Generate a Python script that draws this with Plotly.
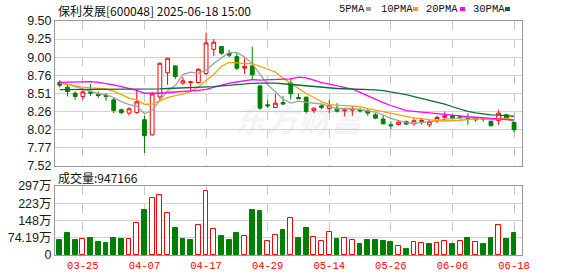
import plotly.graph_objects as go

dates = ["03-20", "03-21", "03-24", "03-25", "03-26", "03-27", "03-28", "03-31",
         "04-01", "04-02", "04-03", "04-07", "04-08", "04-09", "04-10", "04-11",
         "04-14", "04-15", "04-16", "04-17", "04-18", "04-21", "04-22", "04-23",
         "04-24", "04-25", "04-28", "04-29", "04-30", "05-06", "05-07", "05-08",
         "05-09", "05-12", "05-13", "05-14", "05-15", "05-16", "05-19", "05-20",
         "05-21", "05-22", "05-23", "05-26", "05-27", "05-28", "05-29", "05-30",
         "06-03", "06-04", "06-05", "06-06", "06-09", "06-10", "06-11", "06-12",
         "06-13", "06-16", "06-17", "06-18"]

open_ = [8.66, 8.593, 8.511, 8.466, 8.529, 8.498, 8.484, 8.42, 8.283, 8.238,
         8.247, 8.147, 7.94, 8.46, 8.79, 8.885, 8.648, 8.657, 8.657, 8.78,
         9.113, 9.149, 9.058, 9.012, 8.853, 8.885, 8.611, 8.352, 8.315, 8.383,
         8.652, 8.452, 8.456, 8.274, 8.338, 8.301, 8.306, 8.27, 8.279, 8.283,
         8.27, 8.215, 8.156, 8.078, 8.083, 8.119, 8.092, 8.124, 8.078, 8.133,
         8.18, 8.205, 8.19, 8.165, 8.145, 8.16, 8.124, 8.138, 8.215, 8.11]
high = [8.69, 8.625, 8.534, 8.557, 8.639, 8.534, 8.511, 8.443, 8.302, 8.32,
        8.566, 8.201, 8.53, 8.93, 8.99, 8.89, 8.73, 8.68, 8.853, 9.34,
        9.25, 9.158, 9.104, 9.06, 8.99, 9.149, 8.625, 8.42, 8.502, 8.474,
        8.716, 8.502, 8.465, 8.31, 8.365, 8.42, 8.374, 8.306, 8.329, 8.306,
        8.292, 8.238, 8.215, 8.124, 8.138, 8.138, 8.17, 8.17, 8.156, 8.201,
        8.26, 8.215, 8.2, 8.238, 8.185, 8.183, 8.124, 8.283, 8.229, 8.124]
low = [8.59, 8.466, 8.42, 8.42, 8.475, 8.443, 8.406, 8.238, 8.22, 8.201,
       8.229, 7.691, 7.93, 8.40, 8.625, 8.703, 8.625, 8.543, 8.639, 8.76,
       9.02, 9.04, 9.003, 8.825, 8.775, 8.694, 8.283, 8.306, 8.306, 8.352,
       8.425, 8.434, 8.23, 8.24, 8.292, 8.238, 8.247, 8.192, 8.201, 8.247,
       8.201, 8.156, 8.083, 8.019, 8.069, 8.078, 8.065, 8.078, 8.046, 8.101,
       8.133, 8.15, 8.15, 8.078, 8.12, 8.124, 8.056, 8.078, 8.147, 7.975]
close = [8.62, 8.534, 8.466, 8.529, 8.511, 8.479, 8.466, 8.274, 8.247, 8.297,
         8.393, 7.928, 8.50, 8.921, 8.99, 8.739, 8.68, 8.666, 8.839, 9.20,
         9.21, 9.058, 9.031, 8.853, 8.876, 8.762, 8.306, 8.338, 8.374, 8.361,
         8.502, 8.434, 8.26, 8.306, 8.315, 8.338, 8.265, 8.283, 8.292, 8.27,
         8.238, 8.169, 8.092, 8.065, 8.115, 8.087, 8.133, 8.138, 8.124, 8.179,
         8.20, 8.175, 8.18, 8.15, 8.17, 8.15, 8.065, 8.238, 8.156, 8.01]

ma5 = [8.657, 8.634, 8.60, 8.57, 8.532, 8.504, 8.490, 8.452, 8.395, 8.353,
       8.335, 8.228, 8.273, 8.408, 8.546, 8.616, 8.766, 8.799, 8.783, 8.825,
       8.919, 8.995, 9.068, 9.070, 9.006, 8.916, 8.766, 8.627, 8.531, 8.428,
       8.376, 8.402, 8.386, 8.373, 8.363, 8.331, 8.297, 8.301, 8.299, 8.290,
       8.270, 8.250, 8.212, 8.167, 8.136, 8.106, 8.098, 8.108, 8.119, 8.132,
       8.155, 8.163, 8.172, 8.177, 8.175, 8.165, 8.143, 8.155, 8.156, 8.124]
ma10 = [8.65, 8.63, 8.61, 8.595, 8.585, 8.58, 8.57, 8.54, 8.49, 8.442,
        8.420, 8.359, 8.362, 8.402, 8.450, 8.476, 8.497, 8.536, 8.595, 8.686,
        8.767, 8.880, 8.933, 8.927, 8.915, 8.918, 8.880, 8.847, 8.801, 8.717,
        8.646, 8.584, 8.507, 8.452, 8.396, 8.353, 8.349, 8.344, 8.336, 8.327,
        8.300, 8.274, 8.257, 8.233, 8.213, 8.188, 8.174, 8.160, 8.143, 8.134,
        8.130, 8.131, 8.140, 8.148, 8.154, 8.160, 8.153, 8.163, 8.166, 8.149]
ma20 = [8.66, 8.665, 8.665, 8.67, 8.67, 8.66, 8.645, 8.625, 8.60, 8.58,
        8.55, 8.51, 8.505, 8.51, 8.52, 8.525, 8.53, 8.54, 8.55, 8.564,
        8.593, 8.620, 8.648, 8.664, 8.682, 8.697, 8.689, 8.692, 8.698, 8.701,
        8.707, 8.732, 8.720, 8.689, 8.656, 8.635, 8.615, 8.596, 8.568, 8.522,
        8.473, 8.429, 8.382, 8.342, 8.304, 8.271, 8.262, 8.252, 8.239, 8.230,
        8.215, 8.202, 8.198, 8.190, 8.183, 8.174, 8.164, 8.162, 8.155, 8.142]
ma30 = [8.56, 8.56, 8.56, 8.56, 8.56, 8.56, 8.56, 8.56, 8.56, 8.56,
        8.56, 8.56, 8.565, 8.57, 8.575, 8.578, 8.58, 8.585, 8.59, 8.595,
        8.60, 8.61, 8.62, 8.63, 8.64, 8.645, 8.648, 8.65, 8.648, 8.64,
        8.63, 8.62, 8.61, 8.60, 8.59, 8.58, 8.575, 8.572, 8.57, 8.568,
        8.565, 8.555, 8.545, 8.528, 8.51, 8.49, 8.465, 8.44, 8.415, 8.39,
        8.36, 8.325, 8.29, 8.26, 8.24, 8.225, 8.215, 8.21, 8.205, 8.195]

volume_wan = [64.5, 94.6, 64.5, 67.4, 73.1, 55.9, 51.6, 73.1, 68.8, 67.4,
              137.6, 193.5, 243.7, 258.0, 180.6, 116.1, 68.8, 64.5, 127.6, 273.8,
              110.4, 81.7, 64.5, 94.6, 80.3, 193.5, 189.2, 60.2, 84.6, 107.5,
              157.7, 73.1, 116.1, 76.0, 60.2, 98.9, 68.8, 71.7, 64.5, 47.3,
              64.5, 64.5, 60.2, 55.9, 37.3, 25.8, 55.9, 51.6, 47.3, 51.6,
              60.2, 47.3, 60.2, 73.1, 55.9, 47.3, 73.1, 129.0, 68.8, 94.7166]

tick_dates = ["03-25", "04-07", "04-17", "04-29", "05-14", "05-26", "06-06", "06-18"]
price_ticks = ["7.52", "7.77", "8.02", "8.26", "8.51", "8.76", "9.00", "9.25", "9.50"]
price_min, price_max = 7.52, 9.50
vol_max = 296.76
vol_tickvals = [0, 74.19, 148.38, 222.57, 296.76]
vol_ticks = ["0", "74.19万", "148万", "223万", "297万"]

ma_names = ["5PMA", "10PMA", "20PMA", "30PMA"]
ma_colors = ["#a0a0a0", "#f5a300", "#ff00ff", "#0b6e3a"]

RED = "#ff0000"
GREEN = "#008000"

W, H = 578, 276
ML, MR, MT, MB = 55, 56, 21, 21
PW, PH = W - ML - MR, H - MT - MB


def px_x(px):
    return (px - ML) / PW


def px_y(py):
    return (H - MB - py) / PH


x = list(range(len(dates)))
tickvals = [dates.index(d) for d in tick_dates]

fig = go.Figure()

fig.add_trace(go.Candlestick(
    x=x, open=open_, high=high, low=low, close=close,
    increasing=dict(line=dict(color=RED, width=1), fillcolor="white"),
    decreasing=dict(line=dict(color=GREEN, width=1), fillcolor=GREEN),
    whiskerwidth=0, xaxis="x", yaxis="y", hoverinfo="skip", showlegend=False,
))

for vals, name, col in zip([ma5, ma10, ma20, ma30], ma_names, ma_colors):
    fig.add_trace(go.Scatter(x=x, y=vals, mode="lines", name=name,
                             line=dict(color=col, width=1.3),
                             xaxis="x", yaxis="y", hoverinfo="skip", showlegend=False))

vol_up = []
for i in range(len(close)):
    ref = close[i - 1] if i > 0 else open_[i]
    vol_up.append(close[i] > ref)
vol_fill = ["white" if u else GREEN for u in vol_up]
vol_line = [RED if u else GREEN for u in vol_up]

fig.add_trace(go.Bar(x=x, y=volume_wan, width=0.62,
                     marker=dict(color=vol_fill, line=dict(color=vol_line, width=1)),
                     xaxis="x2", yaxis="y2", hoverinfo="skip", showlegend=False))

price_dom = [px_y(165.5), 1.0]
vol_dom = [0.0, px_y(186)]
xr = [-0.62, len(dates) - 1 + 1.03]

axis_common = dict(showline=True, linecolor="#9a9a9a", linewidth=1, mirror=True,
                   zeroline=False, ticks="", fixedrange=True, automargin=False)

fig.update_layout(
    width=W, height=H,
    margin=dict(l=ML, r=MR, t=MT, b=MB, pad=0, autoexpand=False),
    paper_bgcolor="white", plot_bgcolor="white",
    showlegend=False,
    xaxis=dict(domain=[0, 1], anchor="y", range=xr, tickvals=tickvals,
               showticklabels=False, showgrid=True, gridcolor="#c8c8c8",
               griddash="dash", gridwidth=1, rangeslider=dict(visible=False),
               **axis_common),
    yaxis=dict(domain=price_dom, anchor="x", range=[price_min, price_max],
               tickvals=[price_min + i * (price_max - price_min) / 8 for i in range(9)],
               ticktext=price_ticks, showgrid=True, gridcolor="#d2d2d2",
               tickfont=dict(family="Liberation Sans, Arial", size=12.5, color="#1a1a1a"),
               **axis_common),
    xaxis2=dict(domain=[0, 1], anchor="y2", range=xr, tickvals=tickvals,
                ticktext=tick_dates, showgrid=True, gridcolor="#c8c8c8",
                griddash="dash", gridwidth=1,
                tickfont=dict(family="Liberation Mono, monospace", size=10.5, color=RED),
                **axis_common),
    yaxis2=dict(domain=vol_dom, anchor="x2", range=[0, vol_max],
                tickvals=vol_tickvals, ticktext=vol_ticks, showgrid=True,
                gridcolor="#d2d2d2",
                tickfont=dict(family="Liberation Sans, Noto Sans CJK SC", size=12.5, color="#1a1a1a"),
                **axis_common),
    bargap=0,
)

# watermark
fig.add_annotation(text="<b><i>东方财富</i></b>", x=px_x(300), y=px_y(93),
                   xref="paper", yref="paper", showarrow=False,
                   font=dict(family="Noto Sans CJK SC", size=32, color="rgba(170,170,185,0.15)"))

# title
fig.add_annotation(text="保利发展[600048] 2025-06-18 15:00", x=px_x(56), y=px_y(11),
                   xref="paper", yref="paper", xanchor="left", yanchor="middle",
                   showarrow=False,
                   font=dict(family="Noto Sans CJK SC", size=12, color="#111111"))

# volume title
fig.add_annotation(text="成交量:%d" % round(volume_wan[-1] * 10000), x=px_x(56), y=px_y(177),
                   xref="paper", yref="paper", xanchor="left", yanchor="middle",
                   showarrow=False,
                   font=dict(family="Noto Sans CJK SC", size=12, color="#111111"))

# legend
leg_text_x = [337, 379, 424, 471]
leg_box_x = [366, 413, 460, 505]
for name, col, tx, bx in zip(ma_names, ma_colors, leg_text_x, leg_box_x):
    fig.add_annotation(text=name, x=px_x(tx), y=px_y(9.5), xref="paper", yref="paper",
                       xanchor="left", yanchor="middle", showarrow=False,
                       font=dict(family="Liberation Mono, monospace", size=10.5, color="#111111"))
    fig.add_shape(type="rect", xref="paper", yref="paper",
                  x0=px_x(bx), x1=px_x(bx + 5), y0=px_y(7), y1=px_y(11),
                  fillcolor=col, line=dict(width=0))

fig.write_html("out.html", config={"displayModeBar": False},
               post_script="document.body.style.margin='0';document.body.style.overflow='hidden';")
